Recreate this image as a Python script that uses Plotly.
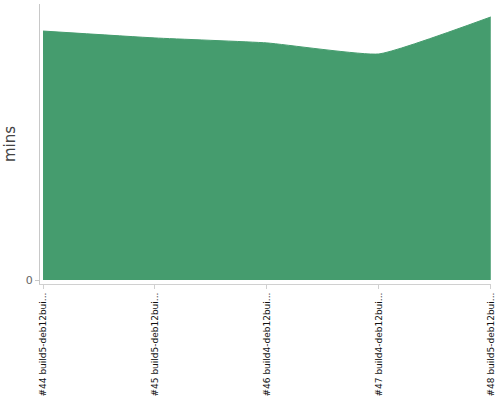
import plotly.graph_objects as go

builds = [
    "#44 build5-deb12bui...",
    "#45 build5-deb12bui...",
    "#46 build4-deb12bui...",
    "#47 build4-deb12bui...",
    "#48 build5-deb12bui...",
]
mins = [9.02, 8.77, 8.59, 8.19, 9.53]

fig = go.Figure(
    go.Scatter(
        x=list(range(len(builds))),
        y=mins,
        mode="lines",
        line=dict(color="#459c6e", width=1, shape="spline", smoothing=0.4),
        fill="tozeroy",
        fillcolor="#459c6e",
        hoverinfo="skip",
    )
)

fig.update_layout(
    width=500,
    height=400,
    template="plotly_white",
    margin=dict(l=40, r=9, t=4, b=116),
    showlegend=False,
    plot_bgcolor="white",
    font=dict(family="DejaVu Sans"),
)
fig.update_xaxes(
    range=[-0.027, 4.002],
    tickvals=list(range(len(builds))),
    ticktext=builds,
    tickangle=-90,
    tickfont=dict(size=9, color="#111"),
    showgrid=False,
    zeroline=False,
    showline=True,
    linecolor="#d0d0d0",
    ticks="outside",
    ticklen=4,
    tickcolor="#d0d0d0",
    automargin=False,
)
fig.update_yaxes(
    range=[-0.145, 10],
    tickvals=[0],
    ticktext=["0"],
    tickfont=dict(size=11, color="#666"),
    showgrid=False,
    zeroline=False,
    showline=True,
    linecolor="#c8c8c8",
    ticks="outside",
    ticklen=4,
    tickcolor="#c8c8c8",
    title=dict(text="mins", font=dict(size=15, color="#444"), standoff=6),
    automargin=False,
)

# the page body has a default 8px margin; drop it so the figure fills the window
fig.write_html(
    "out.html",
    config={"displayModeBar": False},
    post_script="document.body.style.margin='0';",
)
